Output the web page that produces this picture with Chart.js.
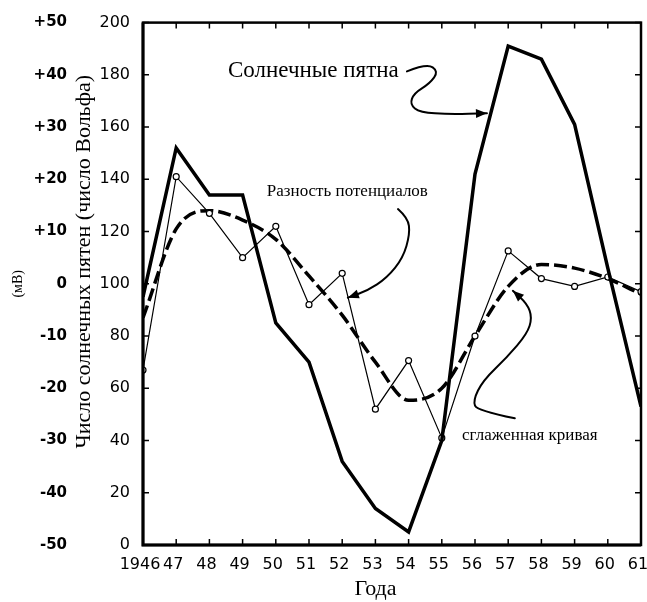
<!DOCTYPE html>
<html lang="ru">
<head>
<meta charset="utf-8">
<title>Солнечные пятна и разность потенциалов</title>
<script src="https://cdn.jsdelivr.net/npm/chart.js@4.4.1/dist/chart.umd.min.js"></script>
<style>
  html, body { margin: 0; padding: 0; background: #fff; }
  #wrap { width: 647px; height: 602px; }
</style>
</head>
<body>
<div id="wrap"><canvas id="sunChart" width="647" height="602"></canvas></div>
<script>
// data
const years = [1946, 1947, 1948, 1949, 1950, 1951, 1952, 1953, 1954, 1955, 1956, 1957, 1958, 1959, 1960, 1961];
const yearLabels = ["1946", "47", "48", "49", "50", "51", "52", "53", "54", "55", "56", "57", "58", "59", "60", "61"];
// число Вольфа
const sunspots = [95, 152, 134, 134, 85, 70, 32, 14, 5, 40, 142, 191, 186, 161, 106, 53];
// разность потенциалов, мВ
const potential = [-16.5, 20.5, 13.5, 5, 11, -4, 2, -24, -14.7, -29.5, -10, 6.3, 1, -0.5, 1.3, -1.5];
// сглаженная кривая, мВ
const smoothed = [-6.5, 10.5, 14, 12.2, 8.5, 1.5, -6, -15, -22.3, -20, -10, -0.5, 3.7, 3, 1, -2];
const mvLabels = ["-50", "-40", "-30", "-20", "-10", "0", "+10", "+20", "+30", "+40", "+50"];

const serif = "'Liberation Serif', 'DejaVu Serif', serif";
Chart.defaults.font.family = "'DejaVu Sans', sans-serif";
Chart.defaults.color = "#000";

// подписи и стрелки, в координатах (год, число пятен)
const notes = [
  { text: "Солнечные пятна", at: [1948.56, 181.3], size: 23 },
  { text: "Разность потенциалов", at: [1949.73, 135.5], size: 17 },
  { text: "сглаженная кривая", at: [1955.61, 42], size: 17 },
];
const arrows = [
  [[1953.95, 181.3], [1954.55, 184.4], [1954.9, 181.3], [1954.64, 176.7], [1954.16, 172.9],
   [1954.04, 168.7], [1954.34, 165.6], [1955.25, 164.9], [1956.36, 165.3]],
  [[1953.68, 128.6], [1953.98, 125.2], [1954.04, 119.1], [1953.83, 109.9], [1953.35, 102.3],
   [1952.75, 97.3], [1952.17, 94.7]],
  [[1957.2, 48.5], [1956.06, 51.5], [1955.94, 55.3], [1956.24, 63], [1956.96, 71.8],
   [1957.57, 80.9], [1957.72, 87], [1957.57, 92.4], [1957.14, 97.3]],
];

function curve(ctx, pts) {
  ctx.beginPath();
  ctx.moveTo(pts[0][0], pts[0][1]);
  for (let i = 1; i < pts.length - 1; i++) {
    const mx = (pts[i][0] + pts[i + 1][0]) / 2;
    const my = (pts[i][1] + pts[i + 1][1]) / 2;
    ctx.quadraticCurveTo(pts[i][0], pts[i][1], mx, my);
  }
  const last = pts[pts.length - 1];
  ctx.lineTo(last[0], last[1]);
  ctx.stroke();
  // arrow head
  const prev = pts[pts.length - 2];
  const ang = Math.atan2(last[1] - prev[1], last[0] - prev[0]);
  ctx.beginPath();
  ctx.moveTo(last[0], last[1]);
  ctx.lineTo(last[0] - 11 * Math.cos(ang) + 4.5 * Math.sin(ang), last[1] - 11 * Math.sin(ang) - 4.5 * Math.cos(ang));
  ctx.lineTo(last[0] - 11 * Math.cos(ang) - 4.5 * Math.sin(ang), last[1] - 11 * Math.sin(ang) + 4.5 * Math.cos(ang));
  ctx.closePath();
  ctx.fill();
}

const framePlugin = {
  id: "frame",
  afterDatasetsDraw(chart) {
    const { ctx, chartArea: a, scales } = chart;
    ctx.save();
    ctx.strokeStyle = "#000";
    ctx.fillStyle = "#000";
    // tick marks pointing inward, on all four sides
    ctx.lineWidth = 1.5;
    ctx.beginPath();
    scales.y.ticks.forEach((t) => {
      const py = scales.y.getPixelForValue(t.value);
      ctx.moveTo(a.left, py); ctx.lineTo(a.left + 6, py);
      ctx.moveTo(a.right, py); ctx.lineTo(a.right - 6, py);
    });
    scales.x.ticks.forEach((t) => {
      const px = scales.x.getPixelForValue(t.value);
      ctx.moveTo(px, a.bottom); ctx.lineTo(px, a.bottom - 6);
      ctx.moveTo(px, a.top); ctx.lineTo(px, a.top + 6);
    });
    ctx.stroke();
    ctx.lineWidth = 2.5;
    ctx.strokeRect(a.left, a.top, a.width, a.height);
    ctx.lineWidth = 3;
    ctx.beginPath();
    ctx.moveTo(a.left, a.top); ctx.lineTo(a.left, a.bottom); ctx.lineTo(a.right, a.bottom);
    ctx.stroke();

    // annotations
    const px = (v) => scales.x.getPixelForValue(v);
    const py = (v) => scales.y.getPixelForValue(v);
    ctx.textBaseline = "middle";
    ctx.textAlign = "left";
    notes.forEach((n) => {
      ctx.font = n.size + "px " + serif;
      ctx.fillText(n.text, px(n.at[0]), py(n.at[1]));
    });
    ctx.lineWidth = 2;
    ctx.lineCap = "round";
    arrows.forEach((arr) => curve(ctx, arr.map((p) => [px(p[0]), py(p[1])])));
    ctx.restore();
  },
};

const toXY = (vals) => vals.map((v, i) => ({ x: years[i], y: v }));

const ctx = document.getElementById("sunChart").getContext("2d");

new Chart(ctx, {
  type: "line",
  data: {
    datasets: [
      {
        label: "Солнечные пятна",
        data: toXY(sunspots),
        yAxisID: "y",
        borderColor: "#000",
        borderWidth: 3.5,
        pointRadius: 0,
        tension: 0,
      },
      {
        label: "Разность потенциалов",
        data: toXY(potential),
        yAxisID: "y2",
        borderColor: "#000",
        borderWidth: 1.2,
        pointRadius: 3,
        pointBorderWidth: 1.2,
        pointBackgroundColor: "#fff",
        pointBorderColor: "#000",
        tension: 0,
      },
      {
        label: "сглаженная кривая",
        data: toXY(smoothed),
        yAxisID: "y2",
        borderColor: "#000",
        borderWidth: 3.5,
        borderDash: [13, 5],
        pointRadius: 0,
        cubicInterpolationMode: "monotone",
      },
    ],
  },
  options: {
    responsive: false,
    animation: false,
    devicePixelRatio: 1,
    layout: { padding: { left: 0, right: 6, top: 21, bottom: 0 } },
    plugins: {
      legend: { display: false },
      tooltip: { enabled: false },
    },
    scales: {
      x: {
        type: "linear",
        min: 1946,
        max: 1961,
        grid: { display: false, drawTicks: false },
        border: { display: false },
        ticks: {
          stepSize: 1,
          padding: 10,
          maxRotation: 0,
          autoSkip: false,
          labelOffset: -3,
          font: { size: 16 },
          callback: (v) => yearLabels[years.indexOf(v)],
        },
        title: {
          display: true,
          text: "Года      ",
          font: { family: serif, size: 22 },
          padding: { top: 0, bottom: 0 },
        },
        afterFit: (s) => {
          s.height = 57;
          s.paddingLeft = 0;
          s.paddingRight = 0;
        },
      },
      y: {
        position: "left",
        weight: 0,
        min: 0,
        max: 200,
        grid: { display: false, drawTicks: false },
        border: { display: false },
        ticks: { stepSize: 20, padding: 13, font: { size: 16 } },
        title: {
          display: true,
          text: "        Число солнечных пятен (число Вольфа)",
          font: { family: serif, size: 22 },
          padding: { top: 1, bottom: 0 },
        },
        afterFit: (s) => { s.width = 73; },
      },
      y2: {
        position: "left",
        weight: 1,
        min: -50,
        max: 50,
        grid: { display: false, drawTicks: false },
        border: { display: false },
        ticks: {
          stepSize: 10,
          padding: 3,
          font: { size: 15, weight: "bold" },
          callback: (v) => mvLabels[Math.round((v + 50) / 10)],
        },
        title: {
          display: true,
          text: "(мВ)",
          font: { family: serif, size: 14 },
          padding: { top: 10, bottom: 0 },
        },
        afterFit: (s) => { s.width = 70; },
      },
    },
  },
  plugins: [framePlugin],
});
</script>
</body>
</html>
